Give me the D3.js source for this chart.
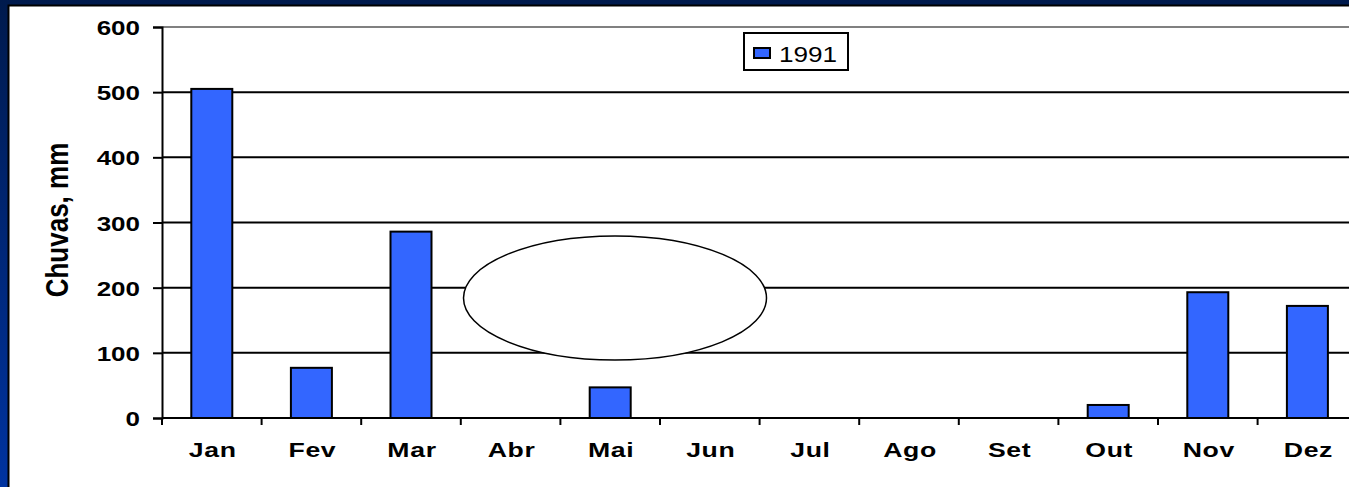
<!DOCTYPE html>
<html><head><meta charset="utf-8">
<script src="https://cdn.jsdelivr.net/npm/d3@7"></script>
<style>html,body{margin:0;padding:0;overflow:hidden;background:#fff}</style>
</head><body>
<svg id="c" width="1349" height="487"></svg>
<script>
const categories = ["Jan","Fev","Mar","Abr","Mai","Jun","Jul","Ago","Set","Out","Nov","Dez"];
const values1991 = [505, 77, 286, 0, 47, 0, 0, 0, 0, 20, 193, 172];
const yTicks = [0, 100, 200, 300, 400, 500, 600];
const seriesName = "1991";

(function(){
const FONT = "Liberation Sans, Arial, sans-serif";
const SX = 1.3; // horizontal stretch of the original picture's text
const svg = d3.select("#c");
const defs = svg.append("defs");
const g1 = defs.append("linearGradient").attr("id","bg").attr("x1",0).attr("y1",0).attr("x2",0).attr("y2",1);
g1.append("stop").attr("offset","0%").attr("stop-color","#001a4d");
g1.append("stop").attr("offset","100%").attr("stop-color","#0033a0");
svg.append("rect").attr("width",1349).attr("height",487).attr("fill","url(#bg)");
svg.append("rect").attr("x",8.5).attr("y",5.5).attr("width",1345).attr("height",490)
  .attr("fill","#fff").attr("stroke","#000").attr("stroke-width",2);

const pLeft = 162, pTop = 27, pBottom = 418;
const band = 99.6;
const x = d3.scaleBand().domain(categories).range([pLeft, pLeft + band*categories.length]).paddingInner(0).paddingOuter(0);
const y = d3.scaleLinear().domain([0,600]).range([pBottom, pTop]);

// gridlines
svg.append("g").selectAll("line").data(yTicks.filter(d=>d>0)).join("line")
  .attr("x1",pLeft).attr("x2",1349).attr("y1",d=>y(d)).attr("y2",d=>y(d))
  .attr("stroke",d=>d===600?"#808080":"#000").attr("stroke-width",2);

// bars
const bw = 41;
svg.append("g").selectAll("rect").data(categories.map((c,i)=>({c,v:values1991[i]})).filter(d=>d.v>0)).join("rect")
  .attr("x",d=>x(d.c)+x.bandwidth()/2-bw/2).attr("width",bw)
  .attr("y",d=>y(d.v)).attr("height",d=>y(0)-y(d.v))
  .attr("fill","#3366ff").attr("stroke","#000").attr("stroke-width",2);

// y axis
const ya = d3.axisLeft(y).tickValues(yTicks).tickSize(9).tickFormat(d3.format("d"));
const yg = svg.append("g").attr("transform",`translate(${pLeft},0)`).call(ya);
yg.select(".domain").attr("stroke","#000").attr("stroke-width",2);
yg.selectAll(".tick line").attr("stroke","#000").attr("stroke-width",2);
yg.selectAll(".tick text")
  .attr("x",null).attr("dy",null)
  .attr("transform",`translate(-22,7.5) scale(${SX},1)`)
  .attr("text-anchor","end")
  .attr("font-family",FONT).attr("font-weight","bold").attr("font-size",20).attr("fill","#000");

// x axis
svg.append("line").attr("x1",pLeft).attr("x2",1349).attr("y1",pBottom).attr("y2",pBottom).attr("stroke","#000").attr("stroke-width",2);
svg.append("g").selectAll("line").data(categories).join("line")
  .attr("x1",d=>x(d)).attr("x2",d=>x(d)).attr("y1",pBottom).attr("y2",pBottom+7)
  .attr("stroke","#000").attr("stroke-width",2);
svg.append("g").selectAll("text").data(categories).join("text")
  .attr("transform",d=>`translate(${x(d)+x.bandwidth()/2+1},457) scale(${SX},1)`)
  .attr("text-anchor","middle").attr("font-family",FONT)
  .attr("font-weight","bold").attr("font-size",20.5).attr("letter-spacing","0.5px").attr("fill","#000")
  .text(d=>d);

// y label
svg.append("text").attr("transform",`translate(68,220) scale(1.2,1) rotate(-90)`)
  .attr("text-anchor","middle").attr("font-family",FONT)
  .attr("font-weight","bold").attr("font-size",26).attr("fill","#000").text("Chuvas, mm");

// legend
const lg = svg.append("g");
lg.append("rect").attr("x",744).attr("y",33).attr("width",104).attr("height",37).attr("fill","#fff").attr("stroke","#000").attr("stroke-width",2);
lg.append("rect").attr("x",754).attr("y",48).attr("width",16).attr("height",10).attr("fill","#3366ff").attr("stroke","#000").attr("stroke-width",2);
lg.append("text").attr("transform","translate(779,61.5) scale(1.16,1)").attr("font-family",FONT).attr("font-size",22.5).attr("fill","#000").text(seriesName);

// ellipse annotation
svg.append("ellipse").attr("cx",615).attr("cy",298).attr("rx",151.5).attr("ry",62).attr("fill","#fff").attr("stroke","#000").attr("stroke-width",1.5);
})();
</script>
</body></html>
